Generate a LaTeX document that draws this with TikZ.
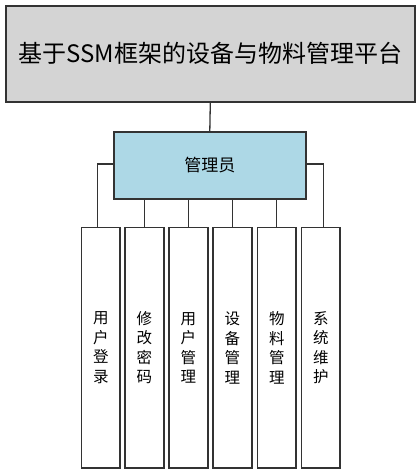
\documentclass[tikz,border=0pt]{standalone}
\usepackage{fontspec}
\setmainfont{Noto Sans CJK SC}
\begin{document}
\begin{tikzpicture}[x=1pt,y=-1pt,
  box/.style={draw=black!80,line width=1.6pt,inner sep=0pt,anchor=north west},
  conn/.style={draw=black!80,line width=1.3pt},
  vtext/.style={font=\fontsize{15.5}{19.5}\selectfont,align=center}]
\useasboundingbox (0,0) rectangle (419,473);
\node[box,fill=black!17,minimum width=409pt,minimum height=96pt] (top) at (5,5) {};
\node at (top.center) {\fontsize{24}{27}\selectfont 基于SSM框架的设备与物料管理平台};
\node[box,fill={rgb,255:red,173;green,216;blue,230},minimum width=192pt,minimum height=67pt] (mgr) at (113,131) {};
\node at (mgr.center) {\fontsize{17}{20}\selectfont 管理员};
\draw[conn] (top.south) -- (mgr.north);
\foreach \i/\x/\t in {1/80.7/{用\\户\\登\\录},2/124.3/{修\\改\\密\\码},3/168.3/{用\\户\\管\\理},4/212.3/{设\\备\\管\\理},5/256.7/{物\\料\\管\\理},6/300.7/{系\\统\\维\\护}}{
  \node[box,fill=white,minimum width=38.6pt,minimum height=240.6pt] (b\i) at (\x,226.7) {};
  \node[vtext] (t\i) at (b\i.center) {\t};
}
\coordinate (l1) at ([xshift=-3pt]b1.north);
\coordinate (l6) at ([xshift=2.5pt]b6.north);
\draw[conn] (mgr.west |- 0,164) -| (l1);
\draw[conn] (mgr.east |- 0,164) -| (l6);
\foreach \i in {2,3,4,5}{
  \draw[conn] (mgr.south -| b\i.north) -- (b\i.north);
}
\end{tikzpicture}
\end{document}
